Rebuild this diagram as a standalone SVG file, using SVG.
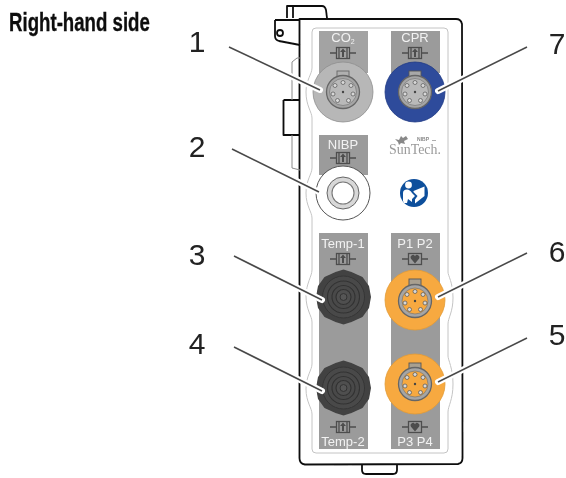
<svg xmlns="http://www.w3.org/2000/svg" width="566" height="478" viewBox="0 0 566 478">
<style>
.num{font-family:"Liberation Sans",Arial,sans-serif;font-size:30px;fill:#222;text-anchor:middle}
.lbl{font-family:"Liberation Sans",Arial,sans-serif;font-size:13px;fill:#f2f2f2;text-anchor:middle}
.body{fill:none;stroke:#111;stroke-width:1.8;stroke-linejoin:round}
.thin{fill:none;stroke:#8a8a8a;stroke-width:1}
.inner{fill:none;stroke:#c4c4c4;stroke-width:1}
.panel{fill:#9b9b9b}
.halo{fill:none;stroke:#fff;stroke-width:6;stroke-linecap:round}
.line{fill:none;stroke:#4a4a4a;stroke-width:1.6;stroke-linecap:butt}
.ic{fill:none;stroke:#4d4d4d;stroke-width:1.3}
.icf{fill:#4d4d4d}
.pin{fill:#d8d8d8;stroke:#555;stroke-width:.7}
.soft{filter:url(#soft)}
</style>
<defs>
<filter id="soft" x="-5%" y="-5%" width="110%" height="110%"><feGaussianBlur stdDeviation=".4"/></filter>
<g id="ico">
<path class="ic" d="M-13 0H-6M6 0H13"/>
<rect class="ic" x="-6.500" y="-5.500" width="13" height="11"/>
<path class="ic" d="M-4 -5.500V5.500M4 -5.500V5.500" stroke-width=".8"/>
<path class="icf" d="M0 -4.500L3 -1H1V4H-1V-1H-3Z"/>
</g>
<g id="icoh">
<path class="ic" d="M-13 0H-6M6 0H13"/>
<rect class="ic" x="-6.500" y="-5.500" width="13" height="11"/>
<path class="icf" d="M0 4.500L-4.200 -.5A2.300 2.300 0 0 1 0 -2.800A2.300 2.300 0 0 1 4.200 -.5Z"/>
</g>
<g id="pins">
<circle class="pin" cx="-8" cy="-6.500" r="2"/><circle class="pin" cx="0" cy="-9.500" r="2"/><circle class="pin" cx="8" cy="-6.500" r="2"/>
<circle class="pin" cx="-10" cy="2" r="2"/><circle class="pin" cx="10" cy="2" r="2"/>
<circle class="pin" cx="-5.500" cy="8.500" r="2"/><circle class="pin" cx="5.500" cy="8.500" r="2"/>
<circle cx="0" cy="0" r="1.200" fill="#444"/>
</g>
<g id="dark">
<path d="M0 -27.500L8 -25L19 -20L25.500 -11L27.500 0L25.500 11L19 20L8 25L0 27.500L-8 25L-19 20L-25.500 11L-27.500 0L-25.500 -11L-19 -20L-8 -25Z" fill="#424242"/>
<circle r="21" fill="#4a4a4a" stroke="#363636"/>
<circle r="16" fill="none" stroke="#333" stroke-width="1.200"/>
<circle r="11.500" fill="none" stroke="#333" stroke-width="1.200"/>
<circle r="7.500" fill="#505050" stroke="#333" stroke-width="1.200"/>
<circle r="3.500" fill="#565656" stroke="#333"/>
</g>
</defs>
<rect width="566" height="478" fill="#fff"/>
<text id="title" class="soft" transform="translate(9 30.500) scale(.7177 1)" font-family="'Liberation Sans',Arial,sans-serif" font-weight="700" font-size="26" fill="#111" stroke="#111" stroke-width=".35">Right-hand side</text>

<g id="device" class="soft">
<path class="body" d="M287 18V6H322Q325 6 326 10L327 18"/>
<path class="body" d="M293 6V18" stroke-width="1.300"/>
<path class="body" d="M275 20H300M275 20V36Q275 40 279 41L300 45"/>
<path class="body" d="M299.500 19H456Q461 19 462 24L462.500 458Q462.500 463 458 464L305 464.500Q299.500 464 299.500 458Z"/>
<circle cx="280" cy="33" r="3" class="body" stroke-width="1.200"/>
<path class="body" d="M283.500 100H300M283.500 100V135H300"/>
<path class="thin" d="M292 100V62L297 58H300M292 135V168L300 170"/>
<path class="body" d="M362 465V470Q362 474 366 474H393Q397 474 397 470V465"/>
<path class="inner" d="M312 32Q312 28 316 28H444Q448 28 448 32V272C448 276 453 282 453 298C453 312 448 318 448 324V356C448 360 453 368 453 384C453 400 448 406 448 412V449Q448 453 444 453H316Q312 453 312 449V414C312 408 306 402 306 389C306 376 312 370 312 364V322C312 316 306 310 306 296C306 284 312 276 312 270V218C312 212 306 206 306 193C306 180 312 174 312 168V118C312 112 306 106 306 92C306 80 312 74 312 68Z"/>
</g>

<g id="panels" class="soft">
<rect class="panel" x="319" y="31" width="49" height="42" style="fill:#a3a3a3"/>
<rect class="panel" x="391" y="31" width="49" height="42"/>
<rect class="panel" x="319" y="135" width="49" height="40"/>
<rect class="panel" x="319" y="233" width="49" height="216"/>
<rect class="panel" x="391" y="233" width="49" height="216"/>
</g>

<g id="port-co2" class="soft">
<text class="lbl" x="343" y="42">CO<tspan font-size="7" dy="2">2</tspan></text>
<use href="#ico" x="343" y="53"/>
<circle cx="343" cy="92" r="30" fill="#b7b7b7" stroke="#8e8e8e" stroke-width=".8"/>
<rect x="337" y="71" width="12" height="10" fill="#b0b0b0" stroke="#666" stroke-width=".9"/>
<circle cx="343" cy="92" r="16.500" fill="#a5a5a5" stroke="#666" stroke-width="1.300"/>
<circle cx="343" cy="92" r="13.500" fill="#b9b9b9" stroke="#777" stroke-width=".7"/>
<use href="#pins" x="343" y="92"/>
</g>

<g id="port-cpr" class="soft">
<text class="lbl" x="415" y="42">CPR</text>
<use href="#ico" x="415" y="53"/>
<circle cx="415" cy="92" r="30" fill="#2f4b9b" stroke="#1f3a85" stroke-width=".8"/>
<rect x="409" y="71" width="12" height="10" fill="#a8a8a8" stroke="#555" stroke-width=".9"/>
<circle cx="415" cy="92" r="16.500" fill="#a5a5a5" stroke="#666" stroke-width="1.300"/>
<circle cx="415" cy="92" r="13.500" fill="#b9b9b9" stroke="#777" stroke-width=".7"/>
<use href="#pins" x="415" y="92"/>
</g>

<g id="port-nibp" class="soft">
<text class="lbl" x="343" y="149">NIBP</text>
<use href="#ico" x="343" y="158"/>
<circle cx="343" cy="193" r="27" fill="#fff" stroke="#555" stroke-width="1"/>
<circle cx="343" cy="193" r="16" fill="#d8d8d8" stroke="#666" stroke-width="1"/>
<circle cx="343" cy="193" r="11" fill="#fff" stroke="#777" stroke-width="1.100"/>
</g>

<g id="logo" class="soft">
<text x="415" y="154" font-family="'Liberation Serif',serif" font-size="15" fill="#9a9a9a" text-anchor="middle" textLength="52" lengthAdjust="spacingAndGlyphs">SunTech.</text>
<text x="423" y="141" font-family="'Liberation Sans',sans-serif" font-size="5" font-weight="700" fill="#8a8a8a" text-anchor="middle">NIBP</text>
<path d="M432 140.500H436" stroke="#999" stroke-width=".8"/>
<path d="M395 139L399 140L401 136L403 138L406 136L408 139L404 141L405 144L401 143L399 145L398 142Z" fill="#888"/>
</g>

<g id="manual-icon" class="soft">
<circle cx="414" cy="193" r="14" fill="#0f4f9c"/>
<circle cx="408.500" cy="185" r="3.400" fill="#fff"/>
<path d="M403 201V193Q403 189.500 407 189.500Q410 189.500 412 193L415 196L412 199V202L408 199L407 203H404Z" fill="#fff"/>
<path d="M413.500 191L424.500 186.500V196L415 203.500V199.500L417.500 196L413.500 192Z" fill="#fff"/>
</g>

<g id="port-temp1" class="soft">
<text class="lbl" x="343" y="248">Temp-1</text>
<use href="#ico" x="343" y="259"/>
<use href="#dark" x="343.500" y="297"/>
</g>

<g id="port-temp2" class="soft">
<use href="#dark" x="343.500" y="388"/>
<use href="#ico" x="343" y="427"/>
<text class="lbl" x="343" y="446">Temp-2</text>
</g>

<g id="port-p1p2" class="soft">
<text class="lbl" x="415" y="248">P1 P2</text>
<use href="#icoh" x="415" y="259"/>
<circle cx="415" cy="300" r="30" fill="#f7a93f" stroke="#e29a35" stroke-width=".8"/>
<rect x="409" y="279" width="12" height="10" fill="#a9a090" stroke="#555" stroke-width=".9"/>
<circle cx="415" cy="301" r="16.500" fill="#a5a5a5" stroke="#666" stroke-width="1.300"/>
<circle cx="415" cy="301" r="13" fill="#f7a93f" stroke="#777" stroke-width=".7"/>
<use href="#pins" x="415" y="301"/>
</g>

<g id="port-p3p4" class="soft">
<circle cx="415" cy="384" r="30" fill="#f7a93f" stroke="#e29a35" stroke-width=".8"/>
<rect x="409" y="363" width="12" height="10" fill="#a9a090" stroke="#555" stroke-width=".9"/>
<circle cx="415" cy="384" r="16.500" fill="#a5a5a5" stroke="#666" stroke-width="1.300"/>
<circle cx="415" cy="384" r="13" fill="#f7a93f" stroke="#777" stroke-width=".7"/>
<use href="#pins" x="415" y="384"/>
<use href="#icoh" x="415" y="427"/>
<text class="lbl" x="415" y="446">P3 P4</text>
</g>

<g id="connectors" class="soft">
<path class="halo" d="M229 47L320 90M232 149L319 192M234 256L322 300M234 347L322 391M527 47L438 91M527 253L438 297M527 338L438 382"/>
<path class="line" d="M229 47L320 90M232 149L319 192M234 256L322 300M234 347L322 391M527 47L438 91M527 253L438 297M527 338L438 382"/>
</g>

<g id="numbers" class="soft">
<text class="num" x="197" y="52">1</text>
<text class="num" x="197" y="157">2</text>
<text class="num" x="197" y="265">3</text>
<text class="num" x="197" y="354">4</text>
<text class="num" x="557" y="54">7</text>
<text class="num" x="557" y="262">6</text>
<text class="num" x="557" y="345">5</text>
</g>
</svg>
